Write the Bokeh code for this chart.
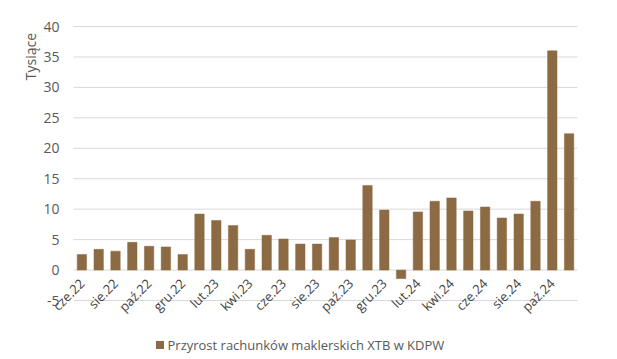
import math
from bokeh.plotting import figure
from bokeh.models import ColumnDataSource, FixedTicker, Range1d
from bokeh.core.properties import value
from bokeh.embed import file_html
from bokeh.resources import INLINE

months = ["cze.22", "lip.22", "sie.22", "wrz.22", "paź.22", "lis.22", "gru.22",
          "sty.23", "lut.23", "mar.23", "kwi.23", "maj.23", "cze.23", "lip.23",
          "sie.23", "wrz.23", "paź.23", "lis.23", "gru.23", "sty.24", "lut.24",
          "mar.24", "kwi.24", "maj.24", "cze.24", "lip.24", "sie.24", "wrz.24",
          "paź.24", "lis.24"]
values = [2.55, 3.4, 3.1, 4.55, 3.9, 3.8, 2.55, 9.2, 8.15, 7.3, 3.4, 5.7, 5.1, 4.27,
          4.27, 5.33, 4.95, 13.9, 9.85, -1.4, 9.55, 11.3, 11.85, 9.7, 10.35, 8.55,
          9.2, 11.3, 36.0, 22.4]
y_ticks = [-5, 0, 5, 10, 15, 20, 25, 30, 35, 40]
y_tick_labels = [str(t) for t in y_ticks]
series_name = "Przyrost rachunków maklerskich XTB w KDPW"
y_title = "Tysiące"

FONT = "Open Sans"
GREY = "#595959"
BAR = "#8c6a43"
GRID = "#d9d9d9"

W, H = 617, 359
# plot area (category band / value band) in canvas pixels
PA_LEFT, PA_RIGHT, PA_TOP, PA_BOTTOM = 73, 577, 26, 300
N = len(months)
Y_LO, Y_HI = min(y_ticks), max(y_ticks)
PX_X = (PA_RIGHT - PA_LEFT) / N
PX_Y = (PA_BOTTOM - PA_TOP) / (Y_HI - Y_LO)


def px_to_x(px):
    return -0.5 + (px - PA_LEFT) / PX_X


def py_to_y(py):
    return Y_HI - (py - PA_TOP) / PX_Y


# the frame covers the whole canvas so nothing (rotated labels, legend) gets clipped
p = figure(width=W, height=H, output_backend="svg", toolbar_location=None,
           x_range=Range1d(px_to_x(0), px_to_x(W)),
           y_range=Range1d(py_to_y(H), py_to_y(0)),
           min_border_left=0, min_border_right=0, min_border_top=0,
           min_border_bottom=0)
p.outline_line_color = None
p.xgrid.grid_line_color = None
p.ygrid.grid_line_color = None
p.yaxis.visible = False

x = list(range(N))

# horizontal gridlines across the category band only
p.segment(x0=[-0.5] * len(y_ticks), x1=[N - 0.5] * len(y_ticks),
          y0=y_ticks, y1=y_ticks, line_color=GRID, line_width=1)

src = ColumnDataSource(dict(x=x, v=values))
p.vbar(x="x", top="v", bottom=0, width=0.56, source=src,
       fill_color=BAR, line_color=BAR, line_width=0.5)

# value labels left of the category band
p.text(x=[-0.5] * len(y_ticks), y=y_ticks, text=y_tick_labels, x_offset=-14,
       text_align="right", text_baseline="middle",
       text_font=value(FONT), text_font_size="14px", text_color=GREY)

# value-axis title, top left, vertical
p.text(x=[px_to_x(30)], y=[py_to_y(56)], text=[y_title], angle=math.pi / 2,
       text_align="center", text_baseline="middle",
       text_font=value(FONT), text_font_size="14px", text_color=GREY)

# legend: swatch + label
p.rect(x=[px_to_x(159.5)], y=[py_to_y(344.5)], width=8, height=8,
       width_units="screen", height_units="screen", fill_color=BAR, line_color=None)
p.text(x=[px_to_x(167)], y=[py_to_y(344.5)], text=[series_name],
       text_align="left", text_baseline="middle",
       text_font=value(FONT), text_font_size="13px", text_color=GREY)

# category axis at the zero line, every second month, rotated labels (painted last)
lab_x = x[::2]
p.xaxis.fixed_location = 0
p.xaxis.ticker = FixedTicker(ticks=lab_x)
p.xaxis.major_label_overrides = {i: months[i] for i in lab_x}
p.xaxis.major_label_orientation = math.pi / 4
p.xaxis.axis_line_color = None
p.xaxis.major_tick_line_color = None
p.xaxis.major_label_text_font = FONT
p.xaxis.major_label_text_font_size = "13px"

open("out.html", "w").write(file_html(p, INLINE))
